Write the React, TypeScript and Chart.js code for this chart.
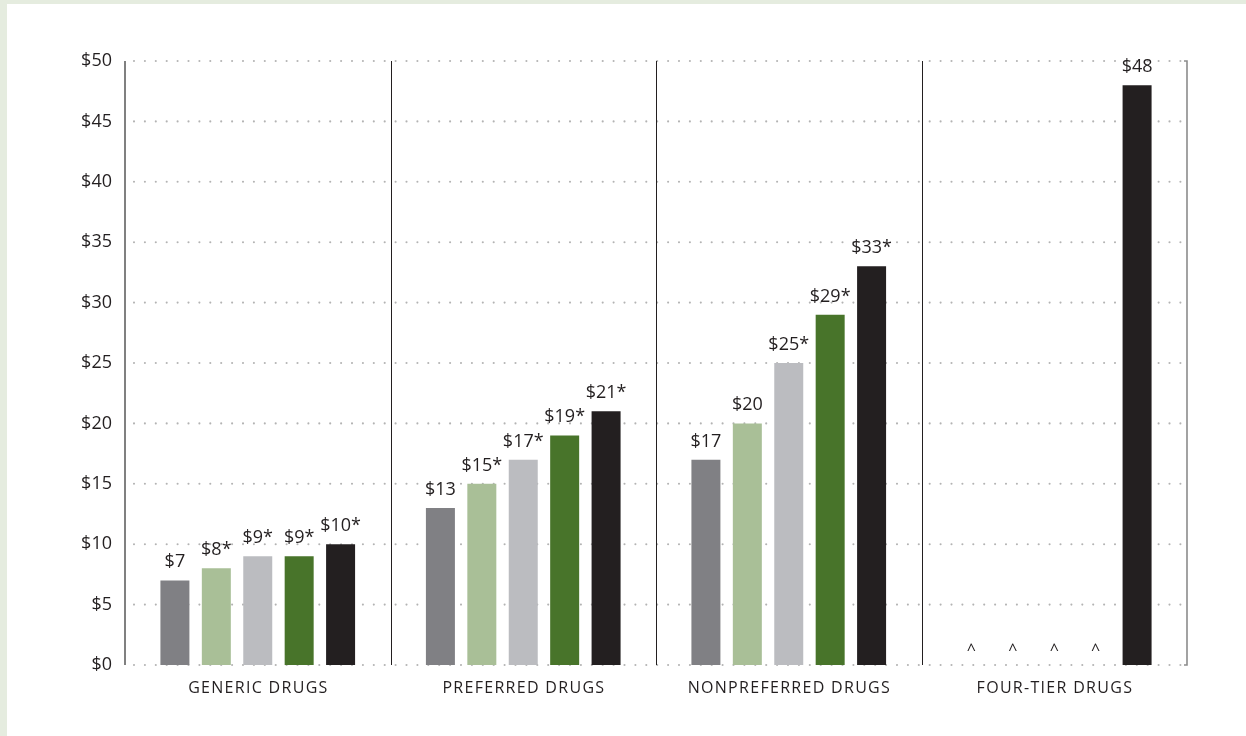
import React, { useEffect, useRef } from "react";
import { Chart, registerables } from "chart.js";

Chart.register(...registerables);

const categories = ["GENERIC DRUGS", "PREFERRED DRUGS", "NONPREFERRED DRUGS", "FOUR-TIER DRUGS"];
const seriesNames = ["Series 1", "Series 2", "Series 3", "Series 4", "Series 5"];
const series1 = [7, 13, 17, null];
const series2 = [8, 15, 20, null];
const series3 = [9, 17, 25, null];
const series4 = [9, 19, 29, null];
const series5 = [10, 21, 33, 48];
const labels1 = ["$7", "$13", "$17", "^"];
const labels2 = ["$8*", "$15*", "$20", "^"];
const labels3 = ["$9*", "$17*", "$25*", "^"];
const labels4 = ["$9*", "$19*", "$29*", "^"];
const labels5 = ["$10*", "$21*", "$33*", "$48"];
const seriesColors = ["#808084", "#a9bf97", "#bbbcc0", "#48742a", "#231f20"];
const yTicks = [0, 5, 10, 15, 20, 25, 30, 35, 40, 45, 50];

const allValues = [series1, series2, series3, series4, series5];
const allLabels = [labels1, labels2, labels3, labels4, labels5];
const FONT = "'Open Sans', sans-serif";
const TEXT = "#231f20";

const customPlugin = {
  id: "custom",
  beforeDatasetsDraw(chart: any) {
    const { ctx, chartArea: a, scales } = chart;
    const y = scales.y;
    const x = scales.x;
    ctx.save();
    // dotted grid
    ctx.fillStyle = "#b3b3b3";
    for (const t of yTicks) {
      const py = y.getPixelForValue(t);
      for (let px = a.left + 9; px <= a.right - 1; px += 10.9) {
        ctx.beginPath();
        ctx.arc(px, py, 1.05, 0, Math.PI * 2);
        ctx.fill();
      }
    }
    // category separators
    ctx.strokeStyle = "#231f20";
    ctx.lineWidth = 1;
    for (let i = 0; i < categories.length - 1; i++) {
      const bx = Math.round((x.getPixelForValue(i) + x.getPixelForValue(i + 1)) / 2) + 0.5;
      ctx.beginPath();
      ctx.moveTo(bx, a.top);
      ctx.lineTo(bx, a.bottom);
      ctx.stroke();
    }
    // left axis
    ctx.strokeStyle = "#4a4a4a";
    ctx.lineWidth = 1.4;
    ctx.beginPath();
    ctx.moveTo(a.left, a.top);
    ctx.lineTo(a.left, a.bottom);
    ctx.stroke();
    // right border with hooks
    ctx.strokeStyle = "#8c8c8c";
    ctx.lineWidth = 1.6;
    ctx.beginPath();
    ctx.moveTo(a.right - 3, a.top);
    ctx.lineTo(a.right, a.top);
    ctx.lineTo(a.right, a.bottom);
    ctx.lineTo(a.right - 3, a.bottom);
    ctx.stroke();
    ctx.restore();
  },
  afterDatasetsDraw(chart: any) {
    const { ctx, chartArea: a, scales } = chart;
    const x = scales.x;
    ctx.save();
    ctx.fillStyle = TEXT;
    ctx.textAlign = "center";
    ctx.textBaseline = "alphabetic";
    chart.data.datasets.forEach((ds: any, di: number) => {
      const meta = chart.getDatasetMeta(di);
      meta.data.forEach((bar: any, i: number) => {
        const label = allLabels[di][i];
        const v = allValues[di][i];
        if (v === null || v === undefined) {
          ctx.font = "16px " + FONT;
          ctx.fillText(label, bar.x, a.bottom - 10);
        } else {
          ctx.font = "18px " + FONT;
          ctx.fillText(label, bar.x, bar.y - 13);
        }
      });
    });
    // category labels
    ctx.font = "16px " + FONT;
    (ctx as any).letterSpacing = "1.3px";
    ctx.textBaseline = "middle";
    categories.forEach((c, i) => {
      ctx.fillText(c, x.getPixelForValue(i) + 0.65, a.bottom + 23);
    });
    ctx.restore();
  },
};

export default function App() {
  const ref = useRef<HTMLCanvasElement | null>(null);
  useEffect(() => {
    if (!ref.current) return;
    const chart = new Chart(ref.current, {
      type: "bar",
      data: {
        labels: categories,
        datasets: allValues.map((vals, i) => ({
          label: seriesNames[i],
          data: vals,
          backgroundColor: seriesColors[i],
          borderWidth: 0,
          categoryPercentage: 0.78,
          barPercentage: 0.7,
        })),
      },
      options: {
        animation: false,
        responsive: false,
        maintainAspectRatio: false,
        layout: { padding: { top: 57, right: 59, left: 0, bottom: 0 } },
        plugins: { legend: { display: false }, tooltip: { enabled: false } },
        scales: {
          x: {
            grid: { display: false },
            border: { display: false },
            ticks: { display: false },
            afterFit: (s: any) => {
              s.height = 71;
            },
          },
          y: {
            min: 0,
            max: 50,
            grid: { display: false, drawTicks: false },
            border: { display: false },
            afterBuildTicks: (s: any) => {
              s.ticks = yTicks.map((v) => ({ value: v }));
            },
            ticks: {
              padding: 13,
              color: TEXT,
              font: { family: FONT, size: 18 },
              callback: (v: any) => "$" + v,
            },
            afterFit: (s: any) => {
              s.width = 118;
            },
          },
        },
      },
      plugins: [customPlugin],
    });
    return () => chart.destroy();
  }, []);
  return (
    <div style={{ position: "absolute", left: 0, top: 0, width: 1246, height: 736, background: "#e5ecdf", overflow: "hidden" }}>
      <div style={{ position: "absolute", left: 7, top: 4, width: 1239, height: 732, background: "#ffffff" }}>
        <canvas ref={ref} width={1239} height={732} style={{ display: "block", width: 1239, height: 732 }} />
      </div>
    </div>
  );
}
